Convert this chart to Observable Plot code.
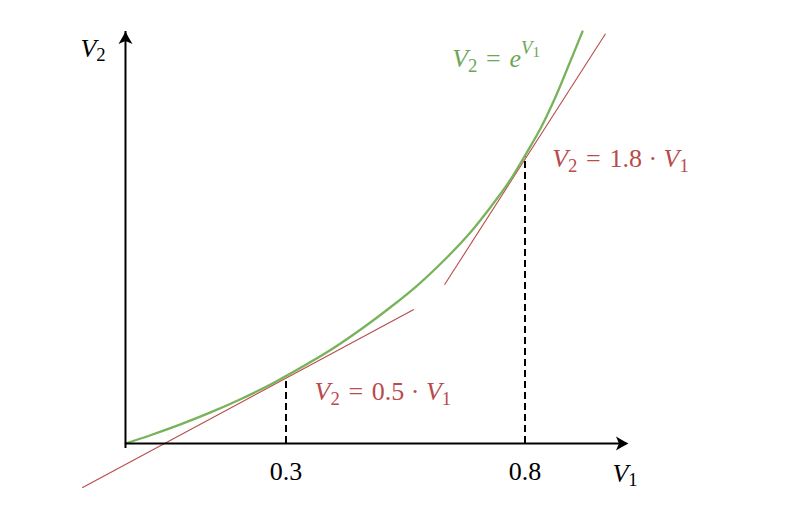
<!DOCTYPE html>
<html>
<head>
<meta charset="utf-8">
<script src="https://cdn.jsdelivr.net/npm/d3@7"></script>
<script src="https://cdn.jsdelivr.net/npm/@observablehq/plot@0.6"></script>
<style>
  html, body { margin: 0; padding: 0; background: #ffffff; }
  #chart svg { display: block; }
</style>
</head>
<body>
<div id="chart"></div>
<script>
// ---- data (in V1 / V2 units) ----
const curveV1 = [-0.0358, 0.0165, 0.0793, 0.1421, 0.2048, 0.2676, 0.3, 0.3931, 0.4628, 0.5186, 0.5745, 0.6372, 0.686, 0.7278, 0.7661, 0.8, 0.8324, 0.8638, 0.891, 0.9203];
const curveV2 = [0.0, 0.0173, 0.0399, 0.065, 0.0926, 0.1233, 0.141, 0.1956, 0.2433, 0.2851, 0.3305, 0.3897, 0.442, 0.4944, 0.5467, 0.6025, 0.659, 0.7249, 0.7902, 0.8619];

const tangentLowV1 = [-0.1264, 0.5674];
const tangentLowV2 = [-0.0927, 0.2803];
const tangentHighV1 = [0.6316, 0.9684];
const tangentHighV2 = [0.332, 0.8571];

const tickV1 = [0.3, 0.8];
const tickLabels = ["0.3", "0.8"];
const tickCurveV2 = [0.141, 0.6025];
const tickLabelV2 = -0.0774;

const axisOriginV1 = -0.0358;
const axisOriginV2 = 0;
const axisEndV1 = 1.0165;
const axisTopV2 = 0.862;

const axisLabels = ["V_2", "V_1"];
const axisLabelV1 = [-0.130, 0.983];
const axisLabelV2 = [0.8096, -0.0795];

const eqLabels = ["V_2 = e^{V_1}", "V_2 = 1.8 · V_1", "V_2 = 0.5 · V_1"];
const eqLabelV1 = [0.6477, 0.8569, 0.3596];
const eqLabelV2 = [0.7872, 0.578, 0.09];
const eqKinds = ["curve", "tangent", "tangent"];

// ---- styles ----
const GREEN = "#78b35b";
const GREEN_TEXT = "#6ea657";
const RED = "#b84b4b";
const FONT = "'Liberation Serif', 'DejaVu Serif', serif";
const FS = 26;

const curve = curveV1.map((v, i) => ({x: v, y: curveV2[i]}));
const tangents = [
  {x1: tangentLowV1[0], y1: tangentLowV2[0], x2: tangentLowV1[1], y2: tangentLowV2[1]},
  {x1: tangentHighV1[0], y1: tangentHighV2[0], x2: tangentHighV1[1], y2: tangentHighV2[1]}
];
const ticks = tickV1.map((v, i) => ({x: v, top: tickCurveV2[i], label: tickLabels[i]}));
const axLabels = axisLabels.map((t, i) => ({x: axisLabelV1[i], y: axisLabelV2[i], t}));
const eqs = eqLabels.map((t, i) => ({x: eqLabelV1[i], y: eqLabelV2[i], t, kind: eqKinds[i]}));
const arrowTips = [
  {x: axisEndV1, y: axisOriginV2, rot: 0},
  {x: axisOriginV1, y: axisTopV2, rot: -90}
];

// LaTeX-like stealth arrowhead, tip at the symbol origin, pointing right
const stealth = {
  draw(ctx) {
    ctx.moveTo(0, 0);
    ctx.quadraticCurveTo(-5, -2.5, -12.5, -7);
    ctx.lineTo(-9.5, 0);
    ctx.lineTo(-12.5, 7);
    ctx.quadraticCurveTo(-5, 2.5, 0, 0);
    ctx.closePath();
  }
};

const chart = Plot.plot({
  width: 797,
  height: 521,
  margin: 0,
  style: {background: "#ffffff", fontFamily: FONT, overflow: "visible"},
  x: {type: "linear", domain: [0.3, 0.8], range: [285.5, 524.5], axis: null},
  y: {type: "linear", domain: [0, 1], range: [443, -35], axis: null},
  marks: [
    // dashed drop lines
    Plot.ruleX(ticks, {x: "x", y1: 0, y2: "top", stroke: "#000", strokeWidth: 2, strokeDasharray: "7,4"}),
    // tangent lines
    Plot.link(tangents, {x1: "x1", y1: "y1", x2: "x2", y2: "y2", stroke: RED, strokeWidth: 1.1}),
    // exponential curve
    Plot.line(curve, {x: "x", y: "y", stroke: GREEN, strokeWidth: 2.3, curve: "catmull-rom"}),
    // axes
    Plot.ruleY([axisOriginV2], {x1: axisOriginV1, x2: axisEndV1, stroke: "#000", strokeWidth: 2, insetRight: 5}),
    Plot.ruleX([axisOriginV1], {y1: axisOriginV2, y2: axisTopV2, stroke: "#000", strokeWidth: 2, insetTop: 5}),
    Plot.dot(arrowTips, {x: "x", y: "y", rotate: "rot", symbol: stealth, fill: "#000", stroke: "none", r: 6}),
    // tick labels
    Plot.text(ticks, {x: "x", y: () => tickLabelV2, text: "label", textAnchor: "middle", lineAnchor: "bottom", fontSize: FS, fill: "#000"}),
    // axis labels
    Plot.text(axLabels, {x: "x", y: "y", text: "t", textAnchor: "start", lineAnchor: "bottom", fontSize: FS, fill: "#000"}),
    // equation labels
    Plot.text(eqs, {x: "x", y: "y", text: "t", textAnchor: "start", lineAnchor: "bottom", fontSize: FS,
      fill: d => d.kind === "curve" ? GREEN_TEXT : RED})
  ]
});

document.getElementById("chart").appendChild(chart);

// ---- turn simple TeX-like strings into tspans (italic letters, sub/superscripts) ----
function parseMath(s) {
  const runs = [];
  function push(text, level, italic) {
    const last = runs[runs.length - 1];
    if (last && last.level === level && last.italic === italic) last.text += text;
    else runs.push({text, level, italic});
  }
  function parse(str, sup) {
    let j = 0;
    while (j < str.length) {
      const c = str[j];
      if (c === "_") { push(str[j + 1], sup ? "supsub" : "sub", false); j += 2; }
      else if (c === "^") {
        const k = str.indexOf("}", j);
        parse(str.slice(j + 2, k), true);
        j = k + 1;
      } else { push(c, sup ? "sup" : "base", /[A-Za-z]/.test(c)); j++; }
    }
  }
  parse(s, false);
  return runs;
}
const LEVELS = {
  base: {size: 1, off: 0},
  sub: {size: 0.72, off: 0.17},
  sup: {size: 0.72, off: -0.5},
  supsub: {size: 0.58, off: -0.38}
};
d3.select(chart).selectAll("g[aria-label='text'] text").each(function () {
  const el = d3.select(this);
  const s = this.textContent;
  if (!/[_^V]/.test(s)) return;
  // TeX-like spacing around relations
  const runs = parseMath(s.replace(/ = /g, "\u2004=\u2004"));
  el.text(null).style("white-space", "pre");
  let cur = 0;
  for (const r of runs) {
    const L = LEVELS[r.level];
    const off = L.off * FS;
    el.append("tspan")
      .attr("dy", (off - cur).toFixed(2))
      .attr("font-size", (L.size * FS).toFixed(2))
      .attr("font-style", r.italic ? "italic" : "normal")
      .text(r.text);
    cur = off;
  }
});
</script>
</body>
</html>
